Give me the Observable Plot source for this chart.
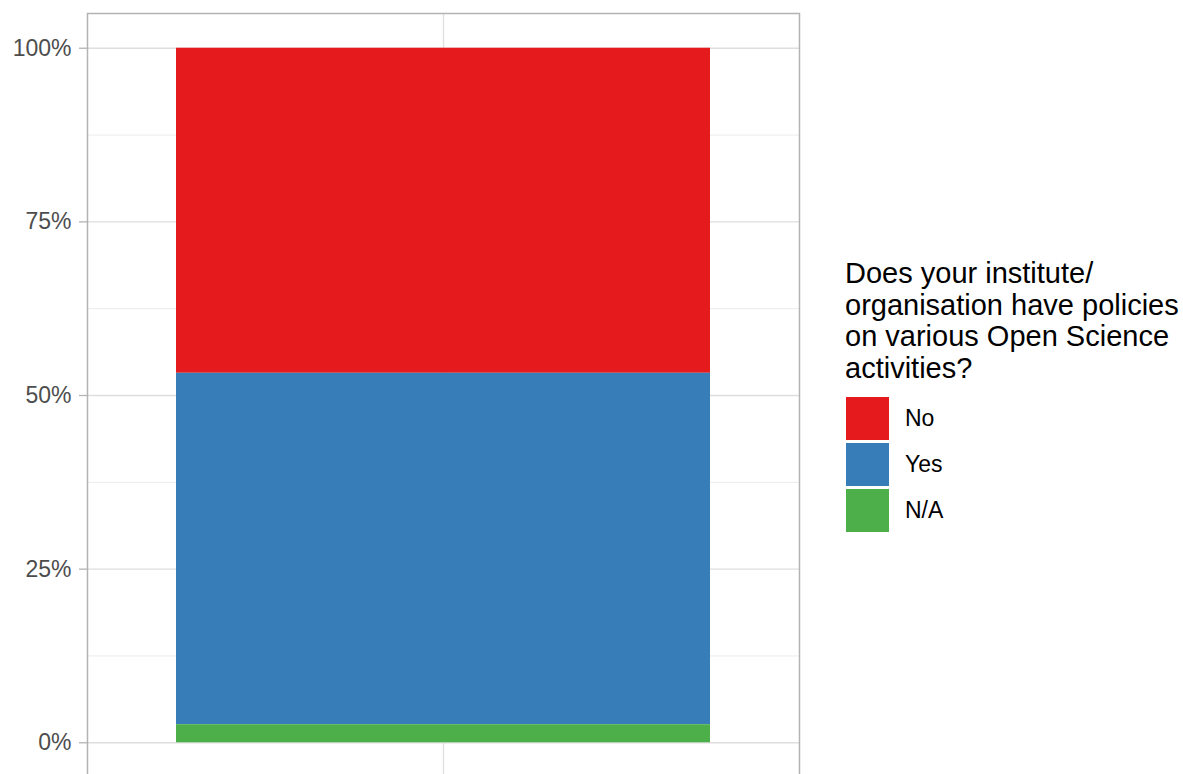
<!DOCTYPE html>
<html>
<head>
<meta charset="utf-8">
<script src="https://cdn.jsdelivr.net/npm/d3@7"></script>
<script src="https://cdn.jsdelivr.net/npm/@observablehq/plot@0.6"></script>
<style>
  html, body { margin: 0; padding: 0; background: #fff; overflow: hidden; }
  #wrap { position: relative; width: 1183px; height: 774px; font-family: "Liberation Sans", Arial, sans-serif; }
  #chart { position: absolute; left: 0; top: 0; }
  #legend { position: absolute; left: 845px; top: 258px; color: #000; }
  #legend .title { font-size: 29px; line-height: 31.7px; white-space: nowrap; }
  #legend .item { position: absolute; left: 0; height: 43px; }
  #legend .key { position: absolute; left: 1px; top: 0; width: 43px; height: 43px; }
  #legend .lab { position: absolute; left: 60px; top: 0; line-height: 43px; font-size: 23px; white-space: nowrap; }
</style>
</head>
<body>
<div id="wrap">
  <div id="chart"></div>
  <div id="legend"></div>
</div>
<script>
// ---- data ----
const titleLines = ["Does your institute/", "organisation have policies", "on various Open Science", "activities?"];
const responses = ["No", "Yes", "N/A"];           // legend order
const shares = [0.468, 0.506, 0.026];             // proportions of respondents
const stackOrder = ["N/A", "Yes", "No"];          // bottom to top
const colors = ["#e41a1c", "#377eb8", "#4daf4a"];
const yTicks = [0, 0.25, 0.5, 0.75, 1];
const yMinor = [0.125, 0.375, 0.625, 0.875];
const xCategory = "all";

const rows = responses.map((r, i) => ({cat: xCategory, response: r, share: shares[i]}));

const chart = Plot.plot({
  width: 1183,
  height: 790,
  marginLeft: 87,
  marginRight: 384,
  marginTop: 13,
  marginBottom: 13,
  style: {fontFamily: "Liberation Sans, Arial, sans-serif", background: "transparent"},
  x: {type: "band", domain: [xCategory], paddingInner: 0.1, paddingOuter: 0.15, axis: null},
  y: {domain: [-0.05, 1.05], axis: null},
  color: {domain: responses, range: colors},
  marks: [
    Plot.ruleY(yMinor, {stroke: "#ebebeb", strokeWidth: 1}),
    Plot.ruleY(yTicks, {stroke: "#dedede", strokeWidth: 1.3}),
    Plot.gridX({stroke: "#dedede", strokeOpacity: 1, strokeWidth: 1.3}),
    Plot.barY(rows, {x: "cat", y: "share", fill: "response", order: stackOrder}),
    Plot.frame({stroke: "#b3b3b3", strokeWidth: 1.5}),
    Plot.axisY({ticks: yTicks, tickFormat: d3.format(".0%"), tickSize: 8, tickPadding: 8,
      stroke: "#b3b3b3", strokeWidth: 1.3, fill: "#4d4d4d", fontSize: 23, label: null})
  ]
});
document.getElementById("chart").appendChild(chart);

// ---- legend ----
const legend = document.getElementById("legend");
const title = document.createElement("div");
title.className = "title";
title.innerHTML = titleLines.join("<br>");
legend.appendChild(title);
responses.forEach((r, i) => {
  const item = document.createElement("div");
  item.className = "item";
  item.style.top = (139 + i * 46) + "px";
  const key = document.createElement("div");
  key.className = "key";
  key.style.background = colors[i];
  const lab = document.createElement("div");
  lab.className = "lab";
  lab.textContent = r;
  item.appendChild(key);
  item.appendChild(lab);
  legend.appendChild(item);
});
</script>
</body>
</html>
